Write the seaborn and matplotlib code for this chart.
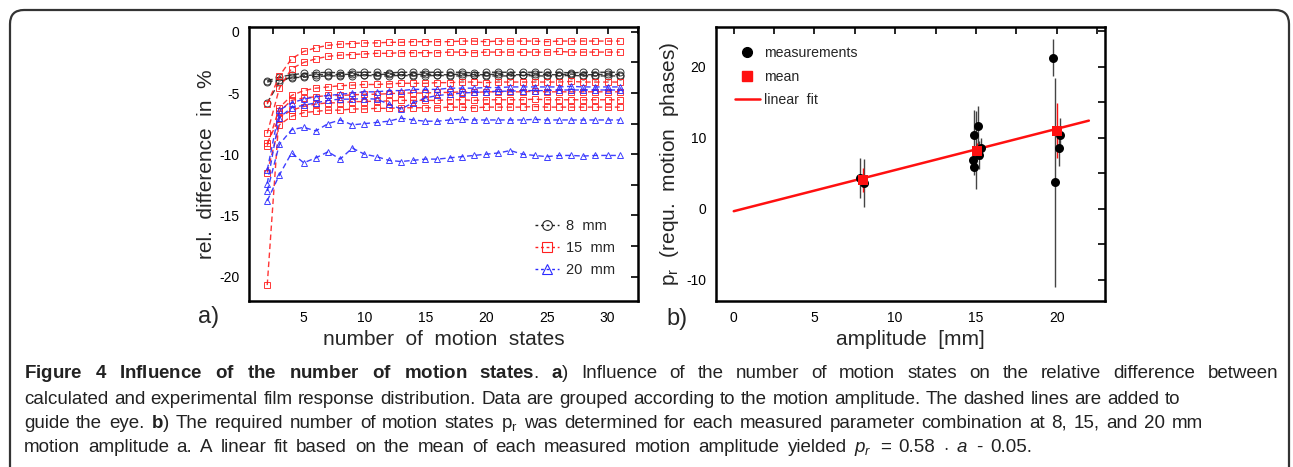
import numpy as np
import pandas as pd
import seaborn as sns
import matplotlib.pyplot as plt
import matplotlib.patches as mpatches
import matplotlib.transforms as mtransforms
from matplotlib.lines import Line2D
from matplotlib.ticker import MultipleLocator

sns.set_theme(style="white")
plt.rcParams['font.family'] = ['Liberation Sans', 'DejaVu Sans']
plt.rcParams['axes.unicode_minus'] = False
plt.rcParams['mathtext.fontset'] = 'custom'
plt.rcParams['mathtext.rm'] = 'Liberation Sans'
plt.rcParams['mathtext.it'] = 'Liberation Sans:italic'
plt.rcParams['mathtext.bf'] = 'Liberation Sans:bold'

# ---- panel a: relative difference vs number of motion states ----
n_states = list(range(2, 32))

mm8_a = [-4.0, -3.7, -3.5, -3.4, -3.35, -3.3, -3.35, -3.3, -3.3, -3.3, -3.35, -3.3, -3.3, -3.3, -3.3,
         -3.3, -3.3, -3.35, -3.3, -3.3, -3.3, -3.3, -3.3, -3.3, -3.3, -3.35, -3.3, -3.3, -3.3, -3.3]
mm8_b = [-5.8, -4.1, -3.7, -3.6, -3.5, -3.5, -3.5, -3.45, -3.5, -3.5, -3.45, -3.5, -3.5, -3.45, -3.5,
         -3.5, -3.45, -3.5, -3.5, -3.45, -3.5, -3.5, -3.45, -3.5, -3.5, -3.45, -3.5, -3.5, -3.45, -3.5]
mm8_c = [-4.1, -3.9, -3.75, -3.7, -3.65, -3.6, -3.6, -3.6, -3.55, -3.6, -3.6, -3.55, -3.6, -3.6, -3.55,
         -3.6, -3.6, -3.55, -3.6, -3.6, -3.6, -3.55, -3.6, -3.6, -3.6, -3.55, -3.6, -3.6, -3.6, -3.6]

mm15_a = [-5.9, -3.6, -2.2, -1.6, -1.3, -1.1, -1.0, -0.95, -0.9, -0.9, -0.85, -0.85, -0.8, -0.8, -0.8,
          -0.8, -0.75, -0.75, -0.8, -0.75, -0.75, -0.75, -0.75, -0.8, -0.75, -0.75, -0.75, -0.75, -0.75, -0.75]
mm15_b = [-8.3, -4.6, -3.0, -2.5, -2.2, -2.0, -1.9, -1.85, -1.8, -1.75, -1.75, -1.7, -1.7, -1.7, -1.7,
          -1.65, -1.65, -1.7, -1.65, -1.65, -1.65, -1.65, -1.65, -1.65, -1.6, -1.65, -1.65, -1.65, -1.65, -1.65]
mm15_c = [-9.3, -6.2, -5.2, -4.8, -4.6, -4.5, -4.4, -4.35, -4.3, -4.3, -4.25, -4.2, -4.2, -4.2, -4.15,
          -4.15, -4.1, -4.1, -4.15, -4.1, -4.1, -4.1, -4.1, -4.1, -4.1, -4.05, -4.1, -4.1, -4.1, -4.1]
mm15_d = [-20.7, -6.5, -5.6, -5.4, -5.3, -5.2, -5.2, -5.15, -5.1, -5.1, -5.05, -5.0, -5.0, -5.0, -4.95,
          -4.95, -4.9, -4.95, -4.9, -4.9, -4.9, -4.9, -4.85, -4.9, -4.9, -4.9, -4.9, -4.9, -4.9, -4.9]
mm15_e = [-9.1, -7.0, -6.4, -6.1, -5.9, -5.8, -5.8, -5.7, -5.7, -5.65, -5.65, -5.6, -5.6, -5.6, -5.6,
          -5.55, -5.55, -5.6, -5.55, -5.55, -5.55, -5.55, -5.5, -5.55, -5.55, -5.55, -5.55, -5.55, -5.55, -5.55]
mm15_f = [-11.5, -7.6, -6.9, -6.6, -6.5, -6.4, -6.4, -6.3, -6.3, -6.25, -6.25, -6.2, -6.2, -6.2, -6.2,
          -6.15, -6.15, -6.2, -6.15, -6.15, -6.15, -6.15, -6.1, -6.15, -6.15, -6.15, -6.15, -6.15, -6.15, -6.15]

mm20_a = [-11.3, -6.4, -5.8, -5.5, -5.3, -5.2, -5.1, -5.0, -4.9, -4.9, -4.8, -4.8, -4.7, -4.7, -4.7,
          -4.6, -4.6, -4.6, -4.55, -4.55, -4.5, -4.5, -4.5, -4.5, -4.5, -4.45, -4.5, -4.5, -4.5, -4.5]
mm20_b = [-12.4, -7.0, -6.2, -6.0, -5.8, -5.6, -5.5, -5.5, -5.45, -5.5, -5.9, -6.3, -5.8, -5.4, -5.2,
          -5.1, -5.0, -4.95, -4.9, -4.85, -4.85, -4.8, -4.8, -4.8, -4.75, -4.75, -4.75, -4.75, -4.75, -4.75]
mm20_c = [-13.0, -9.2, -8.0, -7.8, -8.1, -7.5, -7.2, -7.6, -7.5, -7.4, -7.3, -7.05, -7.2, -7.3, -7.3,
          -7.2, -7.15, -7.2, -7.2, -7.2, -7.2, -7.2, -7.15, -7.2, -7.2, -7.2, -7.2, -7.2, -7.2, -7.2]
mm20_d = [-13.8, -11.7, -9.9, -10.7, -10.3, -9.8, -10.4, -9.5, -10.0, -10.2, -10.5, -10.6, -10.5, -10.4, -10.4,
          -10.3, -10.2, -10.1, -10.0, -9.9, -9.7, -10.0, -10.1, -10.2, -10.1, -10.1, -10.15, -10.1, -10.1, -10.1]

groups = [
    ("8  mm", "#222222", "o", [mm8_a, mm8_b, mm8_c]),
    ("15  mm", "#ff2020", "s", [mm15_a, mm15_b, mm15_c, mm15_d, mm15_e, mm15_f]),
    ("20  mm", "#2a2aff", "^", [mm20_a, mm20_b, mm20_c, mm20_d]),
]

# ---- panel b: required motion phases vs amplitude ----
amp_meas = [7.8, 8.1, 14.85, 14.9, 14.9, 15.0, 15.15, 15.2, 15.3, 19.8, 19.9, 20.15, 20.2]
pr_meas = [4.3, 3.6, 6.9, 10.4, 5.9, 8.3, 11.6, 7.6, 8.5, 21.3, 3.7, 8.5, 10.4]
pr_meas_err = [2.8, 3.4, 1.5, 3.5, 1.2, 5.5, 2.9, 2.0, 1.5, 2.6, 14.7, 2.5, 2.4]

amp_mean = [8.0, 15.05, 20.05]
pr_mean = [4.0, 8.2, 11.0]
pr_mean_err = [1.7, 1.0, 3.85]

fit_slope = 0.58
fit_intercept = -0.35
fit_range = [0, 22]

# ---- figure ----
W, H = 1293, 467
fig = plt.figure(figsize=(W / 100, H / 100), dpi=100, facecolor='white')

# rounded border round the whole figure
border = mpatches.FancyBboxPatch((10, -40), 1279, H - 10 + 40,
                                 boxstyle="round,pad=0,rounding_size=14",
                                 transform=mtransforms.IdentityTransform(),
                                 facecolor='none', edgecolor='#333333', lw=1.6)
fig.patches.append(border)

ax1 = fig.add_axes([249 / W, 1 - 301 / H, (638 - 249) / W, 274 / H])
ax2 = fig.add_axes([716 / W, 1 - 301 / H, (1105 - 716) / W, 274 / H])

for label, color, marker, series in groups:
    for vals in series:
        sns.lineplot(x=n_states, y=vals, ax=ax1, color=color, lw=1.0,
                     linestyle=(0, (4, 2.5)), marker=marker, markersize=5,
                     markerfacecolor='none', markeredgecolor=color,
                     markeredgewidth=0.7, alpha=0.9)

leg_handles = [Line2D([0], [0], color=c, lw=1.0, linestyle=(0, (2, 2)), marker=m,
                      markersize=7, markerfacecolor='none', markeredgecolor=c,
                      markeredgewidth=0.8) for _, c, m, _ in groups]
ax1.legend(leg_handles, [g[0] for g in groups], loc='upper left',
           bbox_to_anchor=(0.721, 0.319), frameon=False, fontsize=10.5,
           handlelength=1.6, handletextpad=0.5, labelspacing=0.55, borderaxespad=0)

ax1.set_xlim(0.5, 32.5)
ax1.set_ylim(-22, 0.4)
ax1.xaxis.set_major_locator(MultipleLocator(5))
ax1.xaxis.set_minor_locator(MultipleLocator(2.5))
ax1.yaxis.set_major_locator(MultipleLocator(5))
ax1.yaxis.set_minor_locator(MultipleLocator(2.5))
ax1.set_xlabel("number  of  motion  states", fontsize=15, labelpad=4)
ax1.set_ylabel("rel.  difference  in  %", fontsize=15, labelpad=2)

# panel b
ax2.errorbar(amp_meas, pr_meas, yerr=pr_meas_err, fmt='none', ecolor='#444444',
             elinewidth=1.0, capsize=0, zorder=2)
ax2.errorbar(amp_mean, pr_mean, yerr=pr_mean_err, fmt='none', ecolor='#ff1010',
             elinewidth=1.0, capsize=0, zorder=4)
sns.lineplot(x=fit_range, y=[fit_slope * a + fit_intercept for a in fit_range], ax=ax2,
             color='#ff1010', lw=1.8, zorder=3)
sns.scatterplot(x=amp_meas, y=pr_meas, ax=ax2, color='black', s=42,
                edgecolor='black', linewidth=0, zorder=5)
sns.scatterplot(x=amp_mean, y=pr_mean, ax=ax2, color='#ff1010', marker='s', s=50,
                edgecolor='#ff1010', linewidth=0, zorder=6)

b_handles = [
    Line2D([0], [0], linestyle='none', marker='o', color='black', markersize=7),
    Line2D([0], [0], linestyle='none', marker='s', color='#ff1010', markersize=7),
    Line2D([0], [0], color='#ff1010', lw=1.8),
]
ax2.legend(b_handles, ["measurements", "mean", "linear  fit"], loc='upper left',
           bbox_to_anchor=(0.034, 0.95), frameon=False, fontsize=10.2,
           handlelength=1.75, handletextpad=0.3, labelspacing=0.65, borderaxespad=0)

ax2.set_xlim(-1.1, 23)
ax2.set_ylim(-13, 25.6)
ax2.xaxis.set_major_locator(MultipleLocator(5))
ax2.xaxis.set_minor_locator(MultipleLocator(2.5))
ax2.yaxis.set_major_locator(MultipleLocator(10))
ax2.yaxis.set_minor_locator(MultipleLocator(5))
ax2.set_xlabel("amplitude  [mm]", fontsize=15, labelpad=4)
ax2.set_ylabel(r"p$_\mathrm{r}$  (requ.  motion  phases)", fontsize=15, labelpad=4)

for ax in (ax1, ax2):
    for s in ax.spines.values():
        s.set_color('black')
        s.set_linewidth(1.8)
    ax.tick_params(which='both', direction='in', top=True, right=True,
                   length=5, width=1.2, color='black')
    ax.tick_params(which='major', labelsize=10, labelcolor='black', pad=7)
    ax.grid(False)
    ax.set_facecolor('white')

fig.text(198 / W, 1 - 323 / H, "a)", fontsize=17, va='baseline', ha='left')
fig.text(666 / W, 1 - 325 / H, "b)", fontsize=17, va='baseline', ha='left')

# ---- caption: each line spread to the width it has in the original ----
renderer = fig.canvas.get_renderer()
cap_size = 13.5

line1 = ([r"$\mathbf{%s}$" % w for w in "Figure 4 Influence of the number of motion".split()]
         + [r"$\mathbf{states}$.", r"$\mathbf{a}$)"]
         + "Influence of the number of motion states on the relative difference between".split())
line2 = ("calculated and experimental film response distribution. Data are grouped according "
         "to the motion amplitude. The dashed lines are added to").split()
line3 = ("guide the eye.".split() + [r"$\mathbf{b}$)"] + "The required number of motion states".split()
         + [r"p$_\mathrm{r}$"]
         + "was determined for each measured parameter combination at 8, 15, and 20 mm".split())
line4 = ("motion amplitude a. A linear fit based on the mean of each measured motion amplitude "
         "yielded").split() + [r"$p_r$", "=", "0.58", r"$\cdot$", r"$a$", "-", "0.05."]

caption = [(line1, 378, 1278), (line2, 404, 1180), (line3, 428, 1203), (line4, 452, 1032)]
x_start = 24
for tokens, yy, x_end in caption:
    texts = [fig.text(0, 1 - yy / H, tok, fontsize=cap_size, va='baseline', ha='left',
                      color='#222222') for tok in tokens]
    widths = [t.get_window_extent(renderer=renderer).width for t in texts]
    gap = (x_end - x_start - sum(widths)) / (len(tokens) - 1)
    xx = x_start
    for t, w in zip(texts, widths):
        t.set_x(xx / W)
        xx += w + gap

fig.savefig("out.png", dpi=100, facecolor='white')
plt.close(fig)
